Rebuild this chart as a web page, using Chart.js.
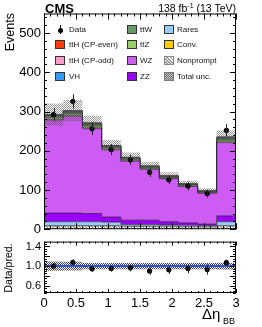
<!DOCTYPE html>
<html><head><meta charset="utf-8">
<script src="https://cdn.jsdelivr.net/npm/chart.js@4/dist/chart.umd.min.js"></script>
<style>
html,body{margin:0;padding:0;background:#fff;}
body{width:262px;height:327px;position:relative;overflow:hidden;font-family:'Liberation Sans',Arial,Helvetica,sans-serif;color:#000;}
canvas{position:absolute;left:0;}
.t{position:absolute;white-space:nowrap;line-height:1;}
.lb{position:absolute;width:10px;height:9px;box-sizing:border-box;border:1px solid #333;}
.lt{position:absolute;font-size:8px;line-height:9px;white-space:nowrap;color:#111;}
</style></head>
<body>
<canvas id="cm" width="262" height="240" style="top:0"></canvas>
<canvas id="cr" width="262" height="95" style="top:232px"></canvas>

<div class="t" style="left:45px;top:2px;font-size:13px;font-weight:bold;">CMS</div>
<div class="t" style="right:26px;top:3px;font-size:10.5px;">138 fb<sup style="font-size:7px;vertical-align:4px;line-height:0">-1</sup> (13 TeV)</div>
<div class="t" style="left:4px;top:113px;width:100px;text-align:right;font-size:12.5px;transform:rotate(-90deg);transform-origin:top left;">Events</div>
<div class="t" style="left:3px;top:318px;width:100px;text-align:center;font-size:10.5px;transform:rotate(-90deg);transform-origin:top left;">Data/pred.</div>
<div class="t" style="left:202px;top:306px;font-size:15px;">Δη</div>
<div class="t" style="left:223px;top:317px;font-size:9px;">BB</div>

<!-- legend -->
<div style="position:absolute;left:60px;top:25px;width:1px;height:9px;background:#000"></div>
<div style="position:absolute;left:58px;top:27.5px;width:5px;height:5px;border-radius:50%;background:#000"></div>
<div class="lt" style="left:69px;top:25px">Data</div>
<div class="lb" style="left:55px;top:40px;background:#ff3a0a"></div><div class="lt" style="left:69px;top:40px">ttH (CP-even)</div>
<div class="lb" style="left:55px;top:56px;background:#ff9ccc"></div><div class="lt" style="left:69px;top:56px">ttH (CP-odd)</div>
<div class="lb" style="left:55px;top:71.5px;background:#3399ff"></div><div class="lt" style="left:69px;top:71.5px">VH</div>

<div class="lb" style="left:127px;top:25px;background:#669966"></div><div class="lt" style="left:140px;top:25px">ttW</div>
<div class="lb" style="left:127px;top:40px;background:#99cc66"></div><div class="lt" style="left:140px;top:40px">ttZ</div>
<div class="lb" style="left:127px;top:56px;background:#cd5cf5"></div><div class="lt" style="left:140px;top:56px">WZ</div>
<div class="lb" style="left:127px;top:71.5px;background:#9900ff"></div><div class="lt" style="left:140px;top:71.5px">ZZ</div>

<div class="lb" style="left:164px;top:25px;background:#99ccff"></div><div class="lt" style="left:177px;top:25px">Rares</div>
<div class="lb" style="left:164px;top:40px;background:#ffcc00"></div><div class="lt" style="left:177px;top:40px">Conv.</div>
<div class="lb" style="left:164px;top:56px;border-color:#888;background:repeating-linear-gradient(45deg,#fff 0 1.2px,#999 1.2px 2.2px)"></div><div class="lt" style="left:177px;top:56px">Nonprompt</div>
<div class="lb" style="left:164px;top:71.5px;border-color:#777;background:repeating-conic-gradient(#666 0 25%,#ccc 0 50%) 0 0/2px 2px"></div><div class="lt" style="left:177px;top:71.5px">Total unc.</div>

<script>
// ---- data ----
const binEdges   = [0, 0.3, 0.6, 0.9, 1.2, 1.5, 1.8, 2.1, 2.4, 2.7, 3.0];
const dataCounts = [292, 326, 256, 203, 177, 145, 126, 110, 91, 252];
const dataErr    = [17, 18, 16, 14, 13, 12, 11, 11, 10, 16];
const nonprompt  = [8, 8, 8, 8, 7, 7, 7, 6, 6, 8];
const conv       = [1, 1, 1, 1, 1, 1, 1, 1, 1, 1];
const rares      = [10, 10, 10, 9, 4, 4, 3, 3, 2, 10];
const zz         = [22, 22, 21, 13, 11, 11, 8, 6, 4, 15];
const wz         = [238, 248, 218, 173, 151, 130, 110, 93, 79, 188];
const ttz        = [5, 5, 5, 4, 4, 3, 3, 3, 2, 5];
const ttw        = [4, 4, 4, 3, 3, 3, 2, 2, 2, 4];
const vh         = [2, 2, 2, 1, 1, 1, 1, 1, 1, 2];
const tthEven    = [1.5, 1.5, 1.5, 1, 1, 1, 1, 0.5, 0.5, 1.5];
const tthOdd     = [1, 1, 1, 0.5, 0.5, 0.5, 0.5, 0.5, 0.5, 1];
const relUnc     = [0.095, 0.09, 0.065, 0.065, 0.065, 0.065, 0.065, 0.065, 0.065, 0.07];
const yTicksMain  = [0, 100, 200, 300, 400, 500];
const yTicksRatio = [0.6, 0.8, 1.0, 1.2, 1.4];
const xTicks      = [0, 0.5, 1, 1.5, 2, 2.5, 3];

// ---- patterns ----
function hatchPattern(){
  const c=document.createElement('canvas');c.width=c.height=3;const g=c.getContext('2d');
  g.fillStyle='#fff';g.fillRect(0,0,3,3);g.fillStyle='#8a8a8a';
  for(let i=0;i<3;i++)g.fillRect(i,i,1,1);
  return g.createPattern(c,'repeat');
}
function checkPattern(col){
  const c=document.createElement('canvas');c.width=c.height=2;const g=c.getContext('2d');
  g.fillStyle=col;g.fillRect(0,0,1,1);g.fillRect(1,1,1,1);
  return g.createPattern(c,'repeat');
}

const centers = dataCounts.map((_,i)=>(binEdges[i]+binEdges[i+1])/2);
function steps(vals){ // histogram as stepped points at bin edges
  const pts = vals.map((v,i)=>({x:binEdges[i],y:v}));
  pts.push({x:binEdges[binEdges.length-1],y:vals[vals.length-1]});
  return pts;
}

// stack bottom -> top
const layers = [
  {name:'Nonprompt', v:nonprompt, c:hatchPattern(), b:'#666'},
  {name:'Conv.', v:conv, c:'#ffcc00', b:'#333'},
  {name:'Rares', v:rares, c:'#99ccff', b:'#333'},
  {name:'ZZ', v:zz, c:'#9900ff', b:'#222'},
  {name:'WZ', v:wz, c:'#cd5cf5', b:'#111'},
  {name:'ttZ', v:ttz, c:'#99cc66', b:'#333'},
  {name:'ttW', v:ttw, c:'#669966', b:'#333'},
  {name:'VH', v:vh, c:'#3399ff', b:'#333'},
  {name:'ttH (CP-even)', v:tthEven, c:'#ff3a0a', b:'#333'},
  {name:'ttH (CP-odd)', v:tthOdd, c:'#ff9ccc', b:'#333'}
];
let cum = new Array(dataCounts.length).fill(0);
const mainSets = [];
layers.forEach((L,k)=>{
  cum = cum.map((c,i)=>c+L.v[i]);
  mainSets.push({label:L.name,data:steps(cum.slice()),stepped:true,fill:k===0?'origin':'-1',
    backgroundColor:L.c,borderColor:L.b,borderWidth:0.7,pointRadius:0,order:5});
});
const total = cum.slice();
mainSets.push({label:'uncLo',data:steps(total.map((t,i)=>t*(1-relUnc[i]))),stepped:true,fill:false,borderWidth:0,pointRadius:0,order:2});
mainSets.push({label:'Total unc.',data:steps(total.map((t,i)=>t*(1+relUnc[i]))),stepped:true,fill:'-1',
  backgroundColor:checkPattern('rgba(80,80,80,0.6)'),borderWidth:0,pointRadius:0,order:1});
mainSets.push({label:'Data',data:dataCounts.map((v,i)=>({x:centers[i],y:v})),showLine:false,
  pointRadius:2.6,pointBackgroundColor:'#000',pointBorderWidth:0,order:0});

const ratio = dataCounts.map((d,i)=>d/total[i]);
const ratioErr = dataErr.map((e,i)=>e/total[i]);

const errBars = {
  id:'errBars',
  afterDatasetsDraw(chart,args,o){
    const {ctx,scales:{x,y}}=chart;ctx.save();ctx.strokeStyle='#222';ctx.lineWidth=1;
    o.vals.forEach((v,i)=>{
      const px=Math.round(x.getPixelForValue(o.xs[i]))+0.5;
      ctx.beginPath();ctx.moveTo(px,y.getPixelForValue(v-o.errs[i]));ctx.lineTo(px,y.getPixelForValue(v+o.errs[i]));ctx.stroke();
    });
    ctx.restore();
  }
};
const frameTicks = {
  id:'frameTicks',
  afterDraw(chart,args,o){
    const {ctx,chartArea:{left,right,top,bottom},scales:{x,y}}=chart;
    ctx.save();ctx.strokeStyle='#000';ctx.lineWidth=1;
    ctx.strokeRect(left+0.5,top+0.5,right-left-1,bottom-top-1);
    ctx.beginPath();
    const xt=(v,L)=>{const p=Math.round(x.getPixelForValue(v))+0.5;ctx.moveTo(p,bottom);ctx.lineTo(p,bottom-L);ctx.moveTo(p,top);ctx.lineTo(p,top+L);};
    const yt=(v,L)=>{const p=Math.round(y.getPixelForValue(v))+0.5;ctx.moveTo(left,p);ctx.lineTo(left+L,p);ctx.moveTo(right,p);ctx.lineTo(right-L,p);};
    for(let v=x.min;v<=x.max+1e-9;v+=o.xMinor){ if(Math.abs(v/o.xMajor-Math.round(v/o.xMajor))<1e-6) xt(v,o.xMajL); else xt(v,o.xMinL);}
    const y0=Math.ceil(y.min/o.yMinor-1e-9)*o.yMinor;
    for(let v=y0;v<=y.max+1e-9;v+=o.yMinor){ if(Math.abs(v/o.yMajor-Math.round(v/o.yMajor))<1e-6) yt(v,o.yMajL); else yt(v,o.yMinL);}
    ctx.stroke();ctx.restore();
  }
};
const font='"Liberation Sans", Arial, Helvetica, sans-serif';
Chart.defaults.font.family=font;
Chart.defaults.color='#000';

new Chart(document.getElementById('cm'),{
  type:'line',
  data:{datasets:mainSets},
  options:{
    responsive:false,animation:false,devicePixelRatio:1,events:[],
    layout:{padding:{left:0,right:26,top:13.5,bottom:9.5}},
    plugins:{legend:{display:false},tooltip:{enabled:false},
      errBars:{vals:dataCounts,errs:dataErr,xs:centers},
      frameTicks:{xMajor:0.5,xMinor:0.1,xMajL:6,xMinL:3,yMajor:100,yMinor:20,yMajL:6,yMinL:3}},
    scales:{
      x:{type:'linear',min:0,max:3,display:false},
      y:{type:'linear',min:0,max:550,
        afterFit:s=>{s.width=44;},
        afterBuildTicks:s=>{s.ticks=yTicksMain.map(v=>({value:v}));},
        grid:{display:false,drawTicks:false},border:{display:false},
        ticks:{padding:3,font:{size:13},color:'#000'}}
    }
  },
  plugins:[errBars,frameTicks]
});

new Chart(document.getElementById('cr'),{
  type:'line',
  data:{datasets:[
    {label:'uncLo',data:steps(relUnc.map(u=>1-u)),stepped:true,fill:false,borderWidth:0,pointRadius:0,order:3},
    {label:'unc',data:steps(relUnc.map(u=>1+u)),stepped:true,fill:'-1',backgroundColor:checkPattern('rgba(30,30,30,0.85)'),borderWidth:0,pointRadius:0,order:2},
    {label:'ref',data:[{x:0,y:1},{x:3,y:1}],borderColor:'#3050e0',borderWidth:2,pointRadius:0,fill:false,order:1},
    {label:'Data',data:ratio.map((v,i)=>({x:centers[i],y:v})),showLine:false,pointRadius:2.6,pointBackgroundColor:'#000',pointBorderWidth:0,order:0}
  ]},
  options:{
    responsive:false,animation:false,devicePixelRatio:1,events:[],
    layout:{padding:{left:0,right:26,top:9,bottom:0}},
    plugins:{legend:{display:false},tooltip:{enabled:false},
      errBars:{vals:ratio,errs:ratioErr,xs:centers},
      frameTicks:{xMajor:0.5,xMinor:0.1,xMajL:4,xMinL:2,yMajor:0.2,yMinor:0.05,yMajL:6,yMinL:3}},
    scales:{
      x:{type:'linear',min:0,max:3,
        afterFit:s=>{s.height=34;},
        afterBuildTicks:s=>{s.ticks=xTicks.map(v=>({value:v}));},
        grid:{display:false,drawTicks:false},border:{display:false},
        ticks:{padding:3,font:{size:13},color:'#000',maxRotation:0,autoSkip:false,callback:v=>String(v)}},
      y:{type:'linear',min:0.45,max:1.5,
        afterFit:s=>{s.width=44;},
        afterBuildTicks:s=>{s.ticks=yTicksRatio.map(v=>({value:v}));},
        grid:{display:false,drawTicks:false},border:{display:false},
        ticks:{padding:3,font:{size:11},color:'#000',callback:v=>v.toFixed(1)}}
    }
  },
  plugins:[errBars,frameTicks]
});
</script>
</body></html>
